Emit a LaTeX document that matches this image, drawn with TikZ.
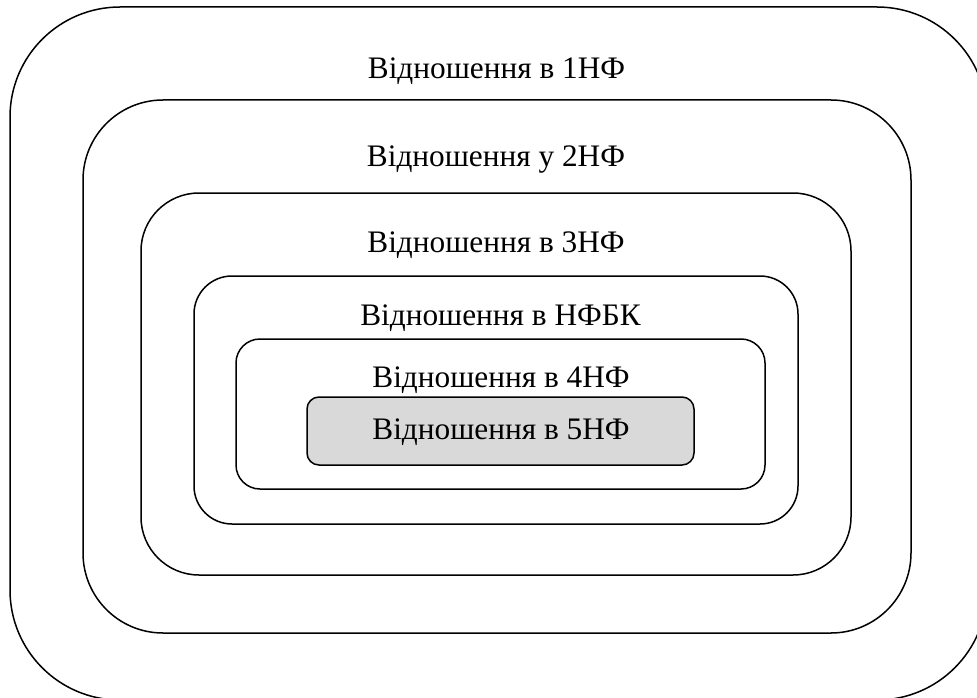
\documentclass[tikz,border=0pt]{standalone}
\usepackage{fontspec}
\setmainfont{Liberation Serif}
\begin{document}
\begin{tikzpicture}[x=1pt,y=-1pt,
  frame/.style={draw=black,line width=1.5pt},
  lbl/.style={anchor=base,inner sep=0pt,font=\fontsize{31.3}{36}\selectfont}]
\useasboundingbox (0,0) rectangle (977,698);
\draw[frame,rounded corners=110] (10,7) rectangle (987,700);
\draw[frame,rounded corners=80] (83,100) rectangle (911,633);
\draw[frame,rounded corners=58] (141,193) rectangle (851,575);
\draw[frame,rounded corners=38] (194,276) rectangle (798,524);
\draw[frame,rounded corners=24] (236,339) rectangle (765,489);
\draw[frame,fill=black!15,rounded corners=12] (307,397) rectangle (694,465);
\node[lbl] (t1) at (496.5,79) {Відношення в 1НФ};
\node[lbl] (t2) at (496,167) {Відношення у 2НФ};
\node[lbl] (t3) at (496,252) {Відношення в 3НФ};
\node[lbl] (t4) at (500.5,325) {Відношення в НФБК};
\node[lbl] (t5) at (501,387) {Відношення в 4НФ};
\node[lbl] (t6) at (501,439) {Відношення в 5НФ};
\end{tikzpicture}
\end{document}
